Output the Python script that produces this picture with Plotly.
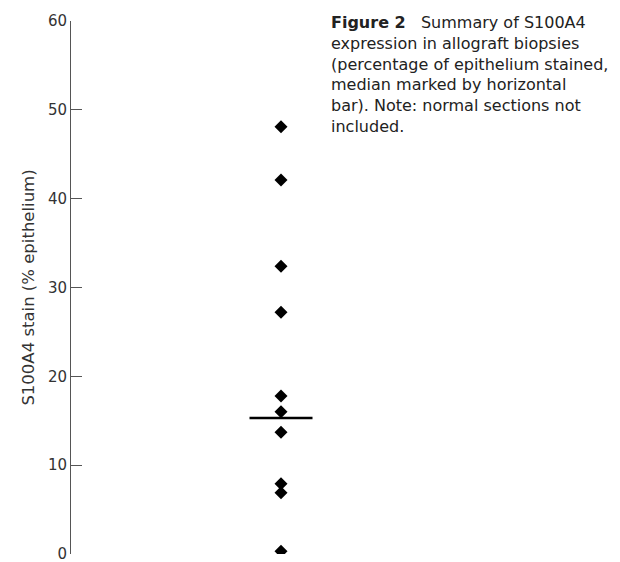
import plotly.graph_objects as go

# Data
values = [48.1, 42.1, 32.4, 27.2, 17.8, 16.0, 13.7, 7.9, 6.9, 0.3]
group = [1] * len(values)
median_value = 15.3
y_ticks = [0, 10, 20, 30, 40, 50, 60]
y_title = "S100A4 stain (% epithelium)"
caption = (
    "<b>Figure 2</b>\u00a0\u00a0\u00a0Summary of S100A4<br>"
    "expression in allograft biopsies<br>"
    "(percentage of epithelium stained,<br>"
    "median marked by horizontal<br>"
    "bar). Note: normal sections not<br>"
    "included."
)

# The page body adds an 8px offset, so the figure is sized to fit the window
W, H = 612, 554
ml, mr, mt, mb = 63, 20, 13, 8

fig = go.Figure()
fig.add_trace(go.Scatter(
    x=group, y=values, mode="markers",
    marker=dict(symbol="diamond", size=10, color="black", line=dict(width=0)),
    showlegend=False, hoverinfo="y",
))
fig.add_trace(go.Scatter(
    x=[group[0] - 0.15, group[0] + 0.15], y=[median_value, median_value],
    mode="lines", line=dict(color="black", width=2.5),
    showlegend=False, hoverinfo="skip",
))

font_family = "'DejaVu Sans', sans-serif"
plot_w = W - ml - mr
plot_h = H - mt - mb
fig.add_annotation(
    text=caption, xref="paper", yref="paper",
    x=(322 - ml) / plot_w, y=1 + (mt - 4) / plot_h,
    xanchor="left", yanchor="top", showarrow=False,
    font=dict(size=16, color="#222", family=font_family),
    align="left", borderpad=0,
)

fig.update_layout(
    width=W, height=H,
    margin=dict(l=ml, r=mr, t=mt, b=mb),
    paper_bgcolor="white", plot_bgcolor="white",
    font=dict(family=font_family, color="#333"),
    xaxis=dict(range=[0, 2.519 * plot_w / 529], visible=False),
    yaxis=dict(
        range=[0, 60], tickvals=y_ticks, ticks="inside", ticklen=11,
        tickcolor="#555", tickwidth=1, showline=True, linecolor="#555",
        linewidth=1, showgrid=False, zeroline=False, tickangle=0,
        automargin=False, ticklabeloverflow="allow",
        tickfont=dict(size=15, color="#333"),
        title=dict(text=y_title, font=dict(size=16.5, color="#333"), standoff=9),
    ),
)
fig.write_html("out.html")
